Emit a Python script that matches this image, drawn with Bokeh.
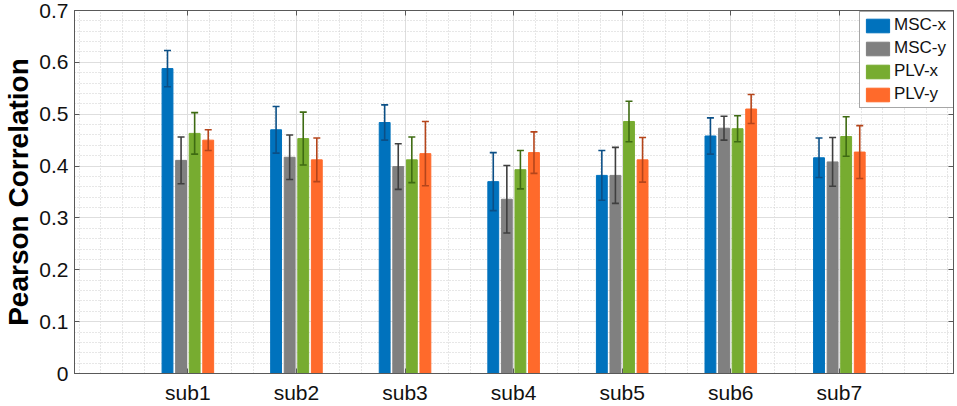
import numpy as np
from bokeh.plotting import figure
from bokeh.models import (ColumnDataSource, Whisker, TeeHead, FixedTicker, LinearAxis,
                          CustomJSTickFormatter, Legend, LegendItem, Range1d)
from bokeh.embed import file_html
from bokeh.resources import INLINE

# ---------------- data ----------------
subjects = ["sub1", "sub2", "sub3", "sub4", "sub5", "sub6", "sub7"]
series_names = ["MSC-x", "MSC-y", "PLV-x", "PLV-y"]

msc_x = [0.588, 0.470, 0.484, 0.370, 0.382, 0.458, 0.416]
msc_x_err = [0.035, 0.045, 0.034, 0.056, 0.048, 0.035, 0.038]
msc_y = [0.411, 0.417, 0.399, 0.336, 0.382, 0.473, 0.408]
msc_y_err = [0.045, 0.043, 0.044, 0.065, 0.054, 0.023, 0.047]
plv_x = [0.463, 0.453, 0.412, 0.393, 0.486, 0.472, 0.457]
plv_x_err = [0.040, 0.051, 0.044, 0.037, 0.039, 0.025, 0.038]
plv_y = [0.450, 0.412, 0.424, 0.426, 0.412, 0.510, 0.427]
plv_y_err = [0.020, 0.042, 0.062, 0.040, 0.043, 0.028, 0.051]

y_ticks = [0, 0.1, 0.2, 0.3, 0.4, 0.5, 0.6, 0.7]
y_tick_labels = ["0", "0.1", "0.2", "0.3", "0.4", "0.5", "0.6", "0.7"]
y_label = "Pearson Correlation"

# ---------------- style ----------------
FONT = "Liberation Sans"
bar_colors = ["#0072BD", "#808080", "#77AC30", "#FF6A2B"]
err_colors = ["#0B4F86", "#3F3F3F", "#3E6B12", "#B5451B"]
offsets = [-0.1875, -0.0625, 0.0625, 0.1875]
bar_width = 0.1
AXIS_COLOR = "#595959"

values = [msc_x, msc_y, plv_x, plv_y]
errors = [msc_x_err, msc_y_err, plv_x_err, plv_y_err]

xs = np.arange(1, len(subjects) + 1)

p = figure(width=957, height=406,
           x_range=Range1d(-0.044, 8.051), y_range=Range1d(0, 0.7),
           min_border_left=69, min_border_right=4, min_border_top=10, min_border_bottom=31,
           output_backend="svg", toolbar_location=None)
p.background_fill_color = "white"
p.outline_line_color = AXIS_COLOR
p.outline_line_width = 1

# ticks
x_minor = np.round(np.arange(0, 8.001, 0.2), 2).tolist()
y_minor = np.round(np.arange(0, 0.7001, 0.02), 3).tolist()
xticker = FixedTicker(ticks=xs.tolist(), minor_ticks=x_minor)
yticker = FixedTicker(ticks=y_ticks, minor_ticks=y_minor)

p.xaxis.ticker = xticker
p.yaxis.ticker = yticker
p.xaxis.major_label_overrides = {int(i): s for i, s in zip(xs, subjects)}
p.yaxis.major_label_overrides = {t: s for t, s in zip(y_ticks, y_tick_labels)}

for ax in [p.xaxis[0], p.yaxis[0]]:
    ax.major_tick_in = 5
    ax.major_tick_out = 0
    ax.minor_tick_in = 0
    ax.minor_tick_out = 0
    ax.axis_line_color = AXIS_COLOR
    ax.major_tick_line_color = AXIS_COLOR
    ax.major_label_text_font = FONT
    ax.major_label_text_font_size = "21px"
    ax.major_label_text_color = "#111111"
p.xaxis.major_label_standoff = 7
p.yaxis.major_label_standoff = 6

p.yaxis.axis_label = y_label
p.yaxis.axis_label_text_font = FONT
p.yaxis.axis_label_text_font_size = "28px"
p.yaxis.axis_label_text_font_style = "bold"
p.yaxis.axis_label_text_color = "#000000"
p.yaxis.axis_label_standoff = 2

# box ticks (top / right), no labels
blank = CustomJSTickFormatter(code="return ''")
top_ax = LinearAxis(ticker=FixedTicker(ticks=xs.tolist()), formatter=blank,
                    major_tick_in=5, major_tick_out=0, minor_tick_in=0, minor_tick_out=0,
                    major_label_standoff=0, axis_line_color=AXIS_COLOR,
                    major_tick_line_color=AXIS_COLOR)
right_ax = LinearAxis(ticker=FixedTicker(ticks=y_ticks), formatter=blank,
                      major_tick_in=5, major_tick_out=0, minor_tick_in=0, minor_tick_out=0,
                      major_label_standoff=0, axis_line_color=AXIS_COLOR,
                      major_tick_line_color=AXIS_COLOR)
p.add_layout(top_ax, "above")
p.add_layout(right_ax, "right")

# grids
for g in [p.xgrid[0], p.ygrid[0]]:
    g.grid_line_color = "#dedede"
    g.grid_line_width = 1
    g.minor_grid_line_color = "#cfcfcf"
    g.minor_grid_line_dash = "1 2"
    g.minor_grid_line_width = 1

# bars + error bars
items = []
for name, vals, errs, off, fc, ec in zip(series_names, values, errors, offsets, bar_colors, err_colors):
    v = np.array(vals)
    e = np.array(errs)
    src = ColumnDataSource(dict(x=xs + off, top=v, upper=v + e, lower=v - e))
    r = p.vbar(x="x", top="top", bottom=0, width=bar_width, source=src,
               fill_color=fc, line_color=fc, line_width=1)
    w = Whisker(source=src, base="x", upper="upper", lower="lower",
                line_color=ec, line_width=1.6, level="overlay",
                upper_head=TeeHead(size=7, line_color=ec, line_width=1.6),
                lower_head=TeeHead(size=7, line_color=ec, line_width=1.6))
    p.add_layout(w)
    items.append(LegendItem(label=name, renderers=[r]))

legend = Legend(items=items, location=(785, 265))
legend.label_text_font = FONT
legend.label_text_font_size = "17px"
legend.label_text_color = "#111111"
legend.glyph_width = 29
legend.glyph_height = 17
legend.label_height = 17
legend.label_width = 60
legend.label_standoff = 2
legend.spacing = 3
legend.padding = 3
legend.margin = 0
legend.border_line_color = "#4d4d4d"
legend.border_line_width = 1
legend.background_fill_color = "white"
legend.background_fill_alpha = 1
legend.level = "overlay"
p.add_layout(legend)

open("out.html", "w").write(file_html(p, INLINE))
